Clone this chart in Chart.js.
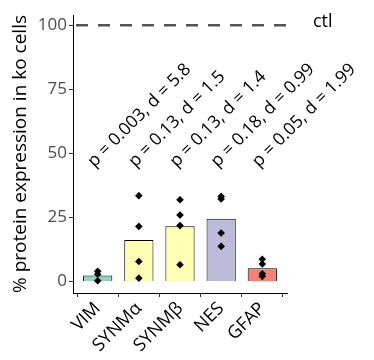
<!DOCTYPE html>
<html>
<head>
<meta charset="utf-8">
<script src="https://cdn.jsdelivr.net/npm/chart.js@4.4.1/dist/chart.umd.min.js"></script>
<style>
  html, body { margin: 0; padding: 0; background: #fff; }
  canvas { display: block; }
</style>
</head>
<body>
<canvas id="chart" width="374" height="360"></canvas>
<script>
const genes = ['VIM', 'SYNMα', 'SYNMβ', 'NES', 'GFAP'];
const meanExpression = [2.3, 16.2, 21.6, 24.5, 5.2];
const replicates = [
  [4.0, 2.8, 0.3],
  [33.5, 21.5, 7.8, 1.3],
  [31.9, 25.9, 21.8, 6.5],
  [33.2, 32.2, 18.9, 13.7],
  [8.7, 6.8, 3.0, 2.0]
];
const statLabels = ['p = 0.003, d = 5.8', 'p = 0.13, d = 1.5', 'p = 0.13, d = 1.4', 'p = 0.18, d = 0.99', 'p = 0.05, d = 1.99'];
const yTicks = [0, 25, 50, 75, 100];
const controlLevel = 100;
const statLevel = 48.5;

const barColors = ['#8dd3c7', '#ffffb3', '#ffffb3', '#bebada', '#fb8072'];
const FONT = '"Open Sans", "Noto Sans", sans-serif';

const barData = meanExpression.map((v, i) => ({ x: i + 1, y: v }));
const pointData = [];
replicates.forEach((vals, i) => vals.forEach(v => pointData.push({ x: i + 1, y: v })));

// dashed ctl line, its label and the rotated stats text
const extras = {
  id: 'extras',
  afterDraw(chart) {
    const c = chart.ctx;
    const xs = chart.scales.x, ys = chart.scales.y;
    const area = chart.chartArea;
    const yc = ys.getPixelForValue(controlLevel);
    c.save();
    c.strokeStyle = '#555555';
    c.lineWidth = 2.5;
    c.setLineDash([12, 10]);
    c.lineDashOffset = -3;
    c.beginPath();
    c.moveTo(area.left, yc);
    c.lineTo(area.right + 3, yc);
    c.stroke();
    c.setLineDash([]);

    c.fillStyle = '#000';
    c.font = '18px ' + FONT;
    c.textAlign = 'left';
    c.textBaseline = 'alphabetic';
    c.fillText('ctl', area.right + 26, yc + 2);

    c.font = '17.5px ' + FONT;
    c.textBaseline = 'middle';
    statLabels.forEach((t, i) => {
      const px = xs.getPixelForValue(i + 1);
      const py = ys.getPixelForValue(statLevel);
      c.save();
      c.translate(px, py);
      c.rotate(-Math.PI / 4);
      c.fillText(t, -10, 0);
      c.restore();
    });
    c.restore();
  }
};

new Chart(document.getElementById('chart'), {
  type: 'bar',
  data: {
    datasets: [
      {
        type: 'scatter',
        data: pointData,
        pointStyle: 'rectRot',
        pointRadius: 3.8,
        backgroundColor: '#000',
        borderColor: '#000',
        borderWidth: 0,
        order: 0
      },
      {
        type: 'bar',
        data: barData,
        backgroundColor: barColors,
        borderColor: '#000',
        borderWidth: 1,
        barPercentage: 0.71,
        categoryPercentage: 1,
        order: 1
      }
    ]
  },
  options: {
    responsive: false,
    animation: false,
    layout: { padding: { top: 15, right: 87, left: 0, bottom: 0 } },
    plugins: { legend: { display: false }, tooltip: { enabled: false } },
    scales: {
      x: {
        type: 'linear',
        offset: false,
        min: 0.4,
        max: 5.6,
        afterBuildTicks: s => { s.ticks = genes.map((g, i) => ({ value: i + 1 })); },
        afterFit: s => { s.height = 67; },
        grid: { drawOnChartArea: false, tickLength: 4, color: '#333' },
        border: { color: '#000', width: 1 },
        ticks: {
          callback: v => genes[v - 1],
          maxRotation: 45,
          minRotation: 45,
          padding: 1,
          color: '#000',
          font: { family: FONT, size: 18 }
        }
      },
      y: {
        min: -4.5,
        max: 104,
        afterBuildTicks: s => { s.ticks = yTicks.map(v => ({ value: v })); },
        afterFit: s => { s.width = 73; },
        grid: { drawOnChartArea: false, tickLength: 4, color: '#333' },
        border: { color: '#000', width: 1 },
        ticks: {
          padding: 2,
          color: '#4d4d4d',
          font: { family: FONT, size: 17 }
        },
        title: {
          display: true,
          text: '% protein expression in ko cells',
          color: '#000',
          font: { family: FONT, size: 19 },
          padding: { top: 9.5, bottom: 0 }
        }
      }
    }
  },
  plugins: [extras]
});
</script>
</body>
</html>
